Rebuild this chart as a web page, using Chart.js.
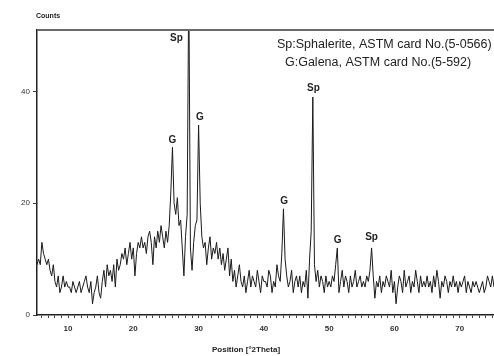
<!DOCTYPE html>
<html>
<head>
<meta charset="utf-8">
<script src="https://cdn.jsdelivr.net/npm/chart.js@4.4.0/dist/chart.umd.min.js"></script>
<style>
html,body{margin:0;padding:0;background:#fff;}
#wrap{width:494px;height:356px;position:relative;}
</style>
</head>
<body>
<div id="wrap"><canvas id="c" width="494" height="356"></canvas></div>
<script>
// 2-theta grid: start and step of the scan
const thetaStart = 5.25;
const thetaStep = 0.25;
// Intensity (counts), one value per grid step
const counts = [
  9,10,9,13,11,10,9,10,8,7,9,6,5,7,4,5,7,5,6,5,
  5,4,6,5,4,5,6,4,5,6,7,5,4,6,2,4,5,7,4,3,
  6,8,5,9,7,8,6,9,5,10,8,9,11,10,12,9,11,13,10,12,
  7,11,13,12,14,12,13,11,14,15,13,9,14,12,15,13,16,14,12,15,
  13,16,22,30,20,18,21,16,17,12,7,14,18,60,12,8,13,16,17,34,
  20,14,12,13,9,12,14,10,12,11,13,10,12,9,11,8,10,12,7,10,
  6,8,5,7,9,6,5,7,4,6,8,5,7,6,5,8,6,4,7,6,
  6,5,8,7,4,6,5,9,7,6,11,19,10,7,5,6,8,4,6,7,
  5,7,4,6,5,8,3,10,15,39,9,6,8,5,7,6,4,7,5,6,
  5,7,6,9,12,4,6,8,5,7,6,4,7,5,6,8,5,6,7,5,
  6,5,7,6,8,12,7,3,6,5,7,4,6,5,7,6,5,8,4,6,
  2,5,7,6,4,8,5,6,7,4,6,5,8,6,4,7,5,6,5,7,
  5,6,4,7,5,8,6,3,6,5,7,6,4,6,5,7,5,6,4,6,
  5,6,7,4,6,5,4,6,5,6,5,4,5,6,4,5,7,6,5,7,
  5
];
// Axis ticks
const xTickLabels = [10, 20, 30, 40, 50, 60, 70];
const yTickLabels = [0, 20, 40];
// Peak labels
const peakText = ['Sp', 'G', 'G', 'Sp', 'G', 'G', 'Sp'];
const peakX    = [26.6, 26.0, 30.2, 47.6, 43.1, 51.3, 56.5];
const peakY    = [49.6, 31.3, 35.4, 40.5, 20.4, 13.4, 13.9];
const legendLines = ['Sp:Sphalerite, ASTM card No.(5-0566)', 'G:Galena, ASTM card No.(5-592)'];
const xTitle = 'Position [°2Theta]';
const yTitle = 'Counts';

const points = counts.map((v, i) => ({x: thetaStart + i * thetaStep, y: v}));

const FONT = '"Liberation Sans", Arial, sans-serif';

const overlay = {
  id: 'overlay',
  afterDraw(chart) {
    const ctx = chart.ctx;
    const a = chart.chartArea;
    const xs = chart.scales.x, ys = chart.scales.y;
    ctx.save();
    // top frame line
    ctx.strokeStyle = '#6a6a6a';
    ctx.lineWidth = 2;
    ctx.beginPath();
    ctx.moveTo(a.left, a.top);
    ctx.lineTo(a.right, a.top);
    ctx.stroke();
    // y-axis title
    ctx.fillStyle = '#222';
    ctx.font = 'bold 7px ' + FONT;
    ctx.textAlign = 'left';
    ctx.textBaseline = 'middle';
    ctx.fillText(yTitle, 36, 16);
    // x-axis title
    ctx.font = 'bold 8px ' + FONT;
    ctx.textAlign = 'center';
    ctx.fillText(xTitle, 246, 350);
    // legend text
    ctx.font = '12.5px ' + FONT;
    ctx.fillStyle = '#222';
    ctx.textAlign = 'left';
    ctx.fillText(legendLines[0], 277, 45);
    ctx.fillText(legendLines[1], 285, 63);
    // peak labels
    ctx.font = 'bold 10px ' + FONT;
    ctx.textAlign = 'center';
    for (let i = 0; i < peakText.length; i++) {
      ctx.fillText(peakText[i], xs.getPixelForValue(peakX[i]), ys.getPixelForValue(peakY[i]));
    }
    ctx.restore();
  }
};

new Chart(document.getElementById('c'), {
  type: 'line',
  data: {
    datasets: [{
      data: points,
      borderColor: '#1a1a1a',
      borderWidth: 1,
      pointRadius: 0,
      tension: 0,
      fill: false
    }]
  },
  options: {
    responsive: false,
    animation: false,
    events: [],
    layout: {padding: {top: 30, right: 0, left: 0, bottom: 0}},
    plugins: {legend: {display: false}, tooltip: {enabled: false}},
    scales: {
      x: {
        type: 'linear',
        min: 5.25,
        max: 75.25,
        afterFit(s) { s.height = 41; s.paddingLeft = 0; s.paddingRight = 0; },
        afterBuildTicks(s) {
          const t = [];
          for (let v = 6; v <= 75; v++) t.push({value: v});
          s.ticks = t;
        },
        ticks: {
          autoSkip: false,
          maxRotation: 0,
          padding: 6,
          color: '#333',
          font: {family: FONT, size: 8, weight: 'bold'},
          callback: (v) => xTickLabels.includes(v) ? String(v) : ''
        },
        grid: {drawOnChartArea: false, drawTicks: true, tickLength: 3, tickColor: '#444', tickWidth: 1},
        border: {display: true, color: '#222', width: 1.5}
      },
      y: {
        min: 0,
        max: 51,
        afterFit(s) { s.width = 37; s.paddingTop = 0; s.paddingBottom = 0; },
        afterBuildTicks(s) { s.ticks = yTickLabels.map(v => ({value: v})); },
        ticks: {
          color: '#333',
          padding: 3,
          font: {family: FONT, size: 8},
          callback: (v) => String(v)
        },
        grid: {drawOnChartArea: false, drawTicks: true, tickLength: 4, tickColor: '#444'},
        border: {display: true, color: '#222', width: 1.5}
      }
    }
  },
  plugins: [overlay]
});
</script>
</body>
</html>
